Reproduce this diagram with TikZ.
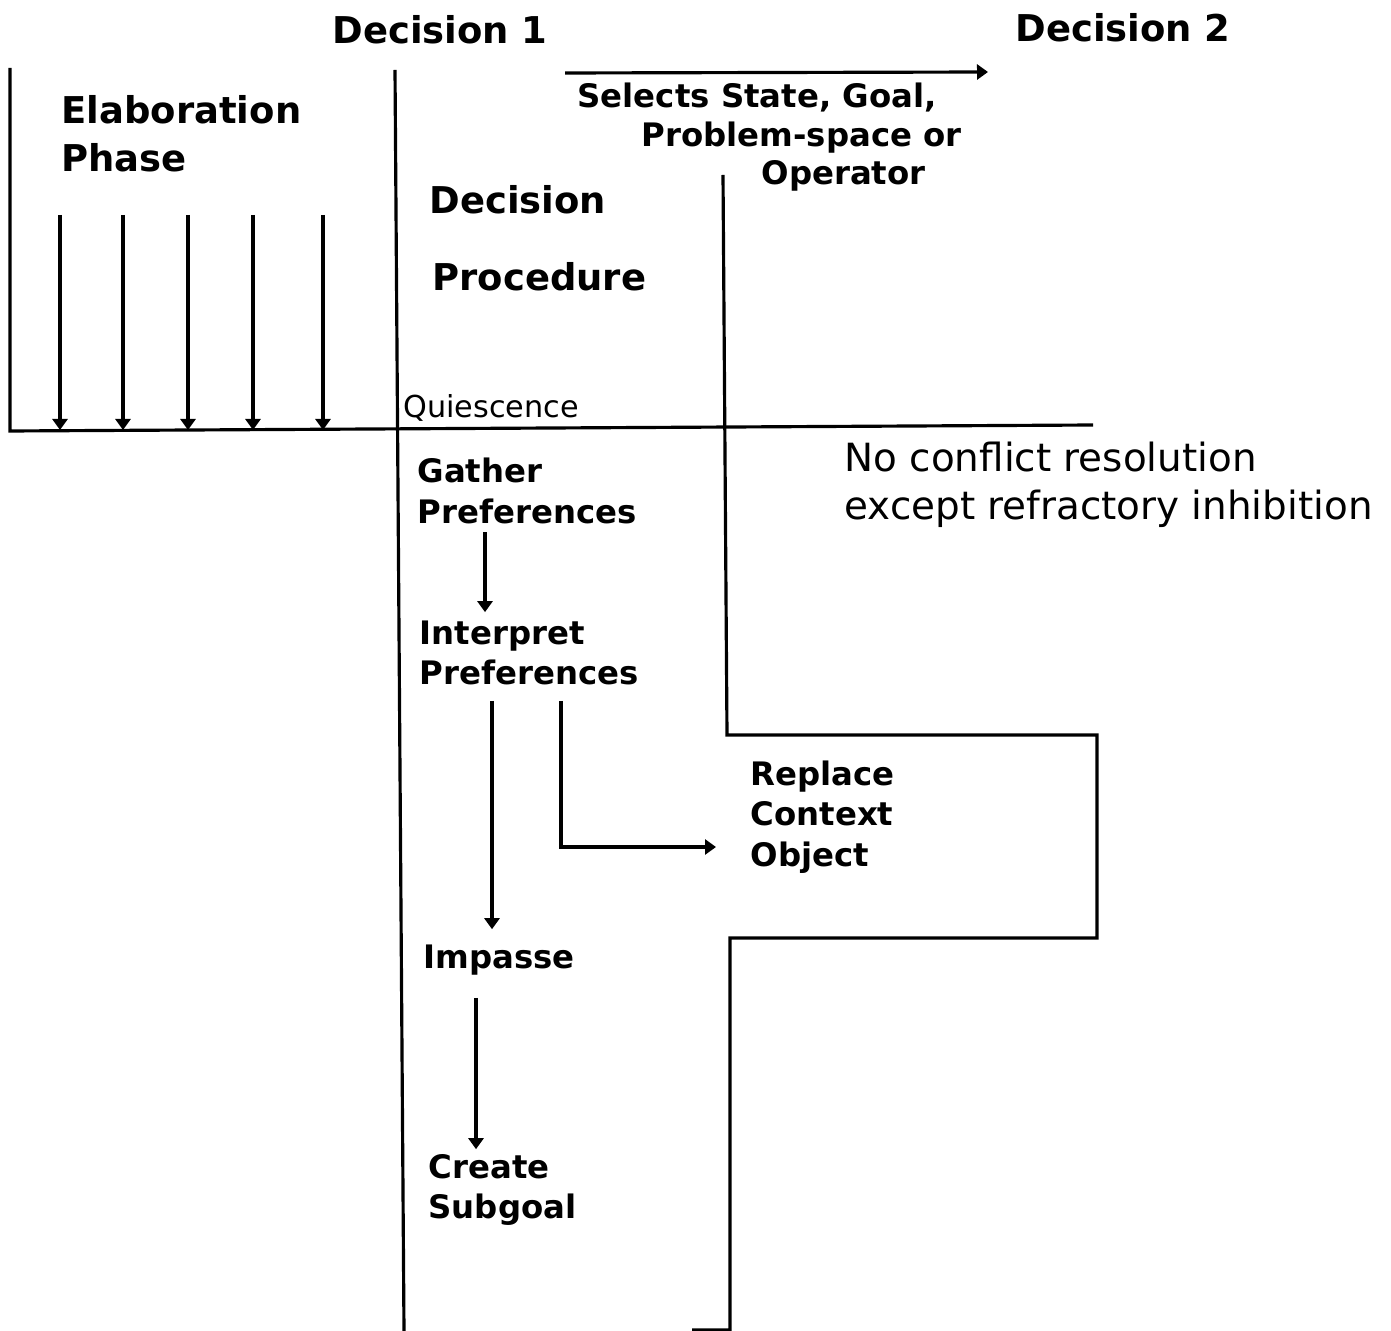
\documentclass[tikz,border=0pt]{standalone}
\usepackage{fontspec}
\setmainfont{DejaVu Sans}
\usetikzlibrary{arrows.meta}
\tikzset{
  big/.style={font=\bfseries\fontsize{10.5}{13.6}\selectfont,align=left,inner sep=0pt},
  mid/.style={font=\bfseries\fontsize{9.2}{11.5}\selectfont,align=left,inner sep=0pt},
  plain/.style={font=\fontsize{11.05}{13.6}\selectfont,align=left,inner sep=0pt},
  tick/.style={-{Triangle[length=1.1mm,width=1.5mm]}}
}

\begin{document}
\begin{tikzpicture}[x=0.01cm,y=-0.01cm,line width=0.9pt]
  \useasboundingbox (0,0) rectangle (1391,1331);
  % headings
  \node[big] (d1) at (440,30) {Decision 1};
  \node[big] (d2) at (1123,28) {Decision 2};
  \node[big,anchor=west] (ep) at (60,134) {Elaboration\\Phase};
  \node[big,anchor=west] (dec) at (428,200) {Decision};
  \node[big,anchor=west] (proc) at (431,277) {Procedure};
  \node[mid,anchor=west] (s1) at (576,98) {Selects State, Goal,};
  \node[mid,anchor=west] (s2) at (640,138) {Problem-space or};
  \node[mid,anchor=west] (s3) at (760,176) {Operator};
  \node[font=\fontsize{8.6}{10}\selectfont,inner sep=0pt,anchor=west] (q) at (402,408) {Quiescence};
  \node[plain,anchor=west] (nc) at (843,485) {No conflict resolution\\except refractory inhibition};
  % steps
  \node[mid,anchor=west] (gp) at (416,491) {Gather\\Preferences};
  \node[mid,anchor=west] (ip) at (418,653) {Interpret\\Preferences};
  \node[mid,anchor=west] (rc) at (749,817) {Replace\\Context\\Object};
  \node[mid,anchor=west] (im) at (422,960) {Impasse};
  \node[mid,anchor=west] (cs) at (427,1190) {Create\\Subgoal};
  % phase lines
  \draw (10,68) -- (10,431) -- (1093,425);
  \draw (395,70) -- (404,1331);
  \draw (723,175) -- (727,735) -- (1097,735) -- (1097,938) -- (730,938) -- (730,1330) -- (692,1330);
  \draw[tick] (565,73) -- (988,72);
  \foreach \x in {60,123,188,253,323}
    \draw[tick] (\x,215) -- (\x,430);
  % flow
  \coordinate (rcin) at (716,847);
  \draw[tick,shorten <=2pt,shorten >=2pt] (gp.south -| 485,0) -- (ip.north -| 485,0);
  \draw[tick,shorten <=4pt,shorten >=4pt] (ip.south -| 492,0) -- (im.north -| 492,0);
  \draw[tick,shorten <=4pt] (ip.south -| 561,0) |- (rcin);
  \draw[tick,shorten <=6pt,shorten >=1pt] (im.south -| 476,0) -- (cs.north -| 476,0);
\end{tikzpicture}
\end{document}
